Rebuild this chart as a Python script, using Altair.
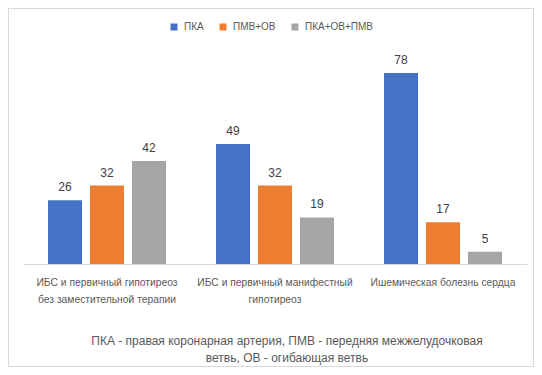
import altair as alt
import pandas as pd

categories = [
    "ИБС и первичный гипотиреоз\nбез заместительной терапии",
    "ИБС и первичный манифестный\nгипотиреоз",
    "Ишемическая болезнь сердца",
]
series = ["ПКА", "ПМВ+ОВ", "ПКА+ОВ+ПМВ"]
values_pka = [26, 49, 78]
values_pmv_ov = [32, 32, 17]
values_all = [42, 19, 5]
colors = ["#4472C4", "#ED7D31", "#A5A5A5"]
footnote = [
    "ПКА - правая  коронарная артерия, ПМВ - передняя межжелудочковая",
    "ветвь, ОВ - огибающая ветвь",
]

rows = []
for s, vals in zip(series, [values_pka, values_pmv_ov, values_all]):
    for c, v in zip(categories, vals):
        rows.append({"cat": c, "series": s, "value": v})
df = pd.DataFrame(rows)

FONT = "Liberation Sans"

x = alt.X(
    "cat:N",
    sort=categories,
    scale=alt.Scale(paddingInner=0, paddingOuter=0),
    axis=alt.Axis(
        title=None,
        labelAngle=0,
        ticks=False,
        domainColor="#D9D9D9",
        labelColor="#595959",
        labelFont=FONT,
        labelFontSize=10.3,
        labelLineHeight=17,
        labelPadding=13,
        labelExpr="split(datum.label, '\\n')",
    ),
)
xoff = alt.XOffset(
    "series:N",
    sort=series,
    scale=alt.Scale(paddingInner=0.19, paddingOuter=0.595),
)
y = alt.Y("value:Q", scale=alt.Scale(domain=[0, 80]), axis=None)

bars = alt.Chart(df).mark_bar().encode(
    x=x,
    xOffset=xoff,
    y=y,
    color=alt.Color(
        "series:N",
        sort=series,
        scale=alt.Scale(domain=series, range=colors),
        legend=alt.Legend(
            title=None,
            orient="none",
            direction="horizontal",
            legendX=146,
            legendY=-46,
            symbolType="square",
            symbolSize=49,
            symbolStrokeWidth=0,
            labelFont=FONT,
            labelFontSize=10,
            labelColor="#595959",
            labelOffset=5,
            columnPadding=14,
            padding=0,
        ),
    ),
)

labels = alt.Chart(df).mark_text(
    baseline="bottom", dy=-6, fontSize=12, font=FONT, color="#404040"
).encode(x=x, xOffset=xoff, y=y, text="value:Q")

border = alt.Chart(df).mark_rect(
    fill=None, stroke="#D9D9D9", strokeWidth=1,
    x=-14.5, x2=510.5, y=-59.5, y2=298.5,
).encode(opacity=alt.value(1))

chart = alt.layer(border, bars, labels).properties(
    width=504,
    height=196,
    autosize=alt.AutoSizeParams(type="none"),
    padding={"left": 15, "top": 60, "right": 7, "bottom": 103},
    background="white",
    title=alt.TitleParams(
        text=footnote,
        orient="bottom",
        anchor="middle",
        offset=-31,
        dx=12,
        fontSize=12,
        fontWeight="normal",
        font=FONT,
        color="#595959",
        lineHeight=17,
    ),
).configure_view(stroke=None)

chart.save("out.html", embed_options={"renderer": "svg", "actions": False})
